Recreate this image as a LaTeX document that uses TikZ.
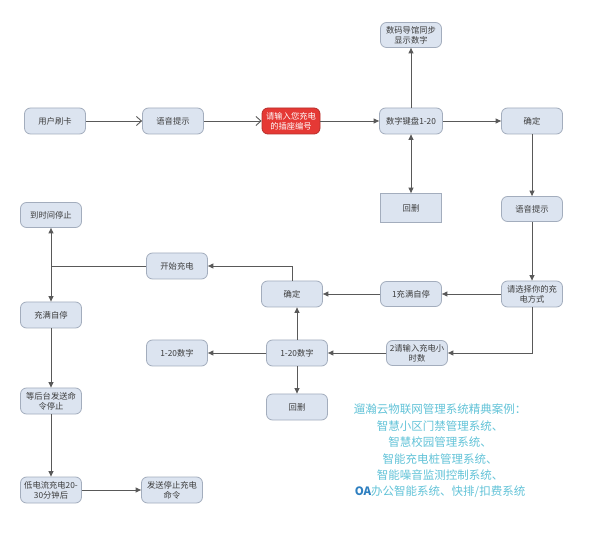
\documentclass[tikz,border=0pt]{standalone}
\usepackage{fontspec}
\setmainfont{Noto Sans CJK SC}
\usetikzlibrary{arrows.meta}
\definecolor{boxfill}{HTML}{DCE4F0}
\definecolor{boxline}{HTML}{A3ADBD}
\definecolor{redfill}{HTML}{E53935}
\definecolor{txtcol}{HTML}{3C3C3C}
\definecolor{adcol}{HTML}{62C3D8}
\definecolor{oacol}{HTML}{2E7FC0}
\tikzset{
  box/.style={draw=boxline, line width=0.8pt, fill=boxfill, rounded corners=6pt,
    minimum width=61pt, minimum height=26pt, inner sep=1pt, align=center,
    font=\fontsize{8.3}{10}\selectfont, text=txtcol},
  sqbox/.style={box, rounded corners=0pt},
  redbox/.style={box, fill=redfill, draw=redfill!80!black, text=white},
  conn/.style={draw=black!65, line width=0.9pt, -{Triangle[length=5.5pt,width=5pt]}},
  dconn/.style={draw=black!65, line width=0.9pt, {Triangle[length=5.5pt,width=5pt]}-{Triangle[length=5.5pt,width=5pt]}},
  openconn/.style={draw=black!65, line width=0.9pt, -{Straight Barb[length=5pt,width=9pt]}},
  line/.style={draw=black!65, line width=0.9pt},
  ad/.style={text=adcol, font=\fontsize{11.5}{16.4}\selectfont, align=center}
}
\begin{document}
\begin{tikzpicture}[x=1pt,y=-1pt]
\useasboundingbox[fill=white] (0,0) rectangle (592,545);
% top row
\node[box] (card) at (55,121) {用户刷卡};
\node[box] (voice1) at (173,121) {语音提示};
\node[redbox, minimum width=58pt] (socket) at (291,121) {请输入您充电\\的插座编号};
\node[box, minimum width=63pt] (keypad) at (411,121) {数字键盘1-20};
\node[box, minimum height=25pt] (display) at (411,35) {数码导馆同步\\显示数字};
\node[box] (ok1) at (532,121) {确定};
\node[sqbox, minimum height=29pt] (del1) at (411,208) {回删};
\node[box, minimum height=25pt] (voice2) at (532,209) {语音提示};
\node[box] (choose) at (532,294) {请选择你的充\\电方式};
\node[box, minimum height=25pt] (full1) at (411,294) {1充满自停};
\node[box, minimum height=25pt] (hours) at (417,353) {2请输入充电小\\时数};
\node[box] (ok2) at (292,294) {确定};
\node[box] (start) at (177,266) {开始充电};
\node[box] (num) at (297,353) {1-20数字};
\node[box] (numl) at (177,353) {1-20数字};
\node[box] (del2) at (297,407) {回删};
% left column
\node[box, minimum height=25pt] (timeup) at (51,215) {到时间停止};
\node[box] (full2) at (51,315) {充满自停};
\node[box] (wait) at (51,401) {等后台发送命\\令停止};
\node[box] (low) at (51,490) {低电流充电20-\\30分钟后};
\node[box] (send) at (172,490) {发送停止充电\\命令};
\coordinate (j1) at (51,266);
\coordinate (j2) at (292,266);
\coordinate (j3) at (532,353);
% connectors
\draw[openconn] (card) -- (voice1);
\draw[openconn] (voice1) -- (socket);
\draw[conn] (socket) -- (keypad);
\draw[conn] (keypad) -- (display);
\draw[dconn] (keypad) -- (del1);
\draw[conn] (keypad) -- (ok1);
\draw[conn] (ok1) -- (voice2);
\draw[conn] (voice2) -- (choose);
\draw[conn] (choose) -- (full1);
\draw[conn] (choose.south) -- (j3) -- (hours.east);
\draw[conn] (full1) -- (ok2);
\draw[conn] (hours) -- (num);
\draw[conn] (num.north) -- (num.north |- ok2.south);
\draw[conn] (num) -- (numl);
\draw[conn] (num) -- (del2);
\draw[conn] (ok2.north) -- (j2) -- (start.east);
\draw[line] (start.west) -- (j1);
\draw[conn] (j1) -- (timeup);
\draw[conn] (j1) -- (full2);
\draw[conn] (full2) -- (wait);
\draw[conn] (wait) -- (low);
\draw[conn] (low) -- (send);
% advertisement text
\node[ad] (adtext) at (440,451) {遛瀚云物联网管理系统精典案例：\\智慧小区门禁管理系统、\\智慧校园管理系统、\\智能充电桩管理系统、\\智能噪音监测控制系统、\\{\color{oacol}\bfseries\itshape OA}办公智能系统、快排/扣费系统};
\end{tikzpicture}
\end{document}
